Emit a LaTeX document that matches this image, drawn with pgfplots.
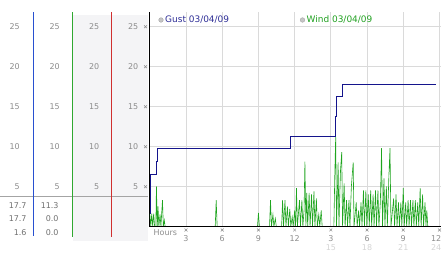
\documentclass[border=0pt]{standalone}
\usepackage{fontspec}
\setmainfont{DejaVu Sans}
\usepackage{pgfplots}
\pgfplotsset{compat=1.18}
\definecolor{gustc}{HTML}{14148C}
\definecolor{windc}{HTML}{1FA51F}
\definecolor{lblc}{HTML}{8C8C8C}
\definecolor{lightlbl}{HTML}{D4D4D4}
\definecolor{panelbg}{HTML}{F4F4F6}
\definecolor{gridc}{HTML}{DADADA}
\definecolor{linblue}{HTML}{2850D0}
\definecolor{lingreen}{HTML}{30A830}
\definecolor{linred}{HTML}{D03030}
\definecolor{legblue}{HTML}{2E2E96}
\definecolor{leggreen}{HTML}{20A020}
\definecolor{sepc}{HTML}{A4A4A4}
\definecolor{valc}{HTML}{707070}

\pgfplotstableread{
h v
0 1.6
0.08 0
0.16 1.6
0.24 0
0.32 1.6
0.4 0
0.5 0
0.55 5.0
0.62 0
0.68 2.5
0.75 0
0.85 1.5
0.92 0
1.05 3.3
1.12 0
1.2 0.8
1.27 0
5.42 0
5.5 3.3
5.58 0
8.92 0
9.0 1.7
9.08 0
9.92 0
10.0 3.3
10.08 0
10.2 1.5
10.28 0
10.4 1.0
10.48 0
10.92 0
11.0 3.3
11.08 0
11.2 3.3
11.28 0
11.4 2.5
11.48 0
11.6 2.2
11.68 0
11.8 1.2
11.88 0
12.0 2.0
12.08 0
12.15 4.8
12.23 0
12.4 3.3
12.48 0
12.6 3.3
12.68 0
12.78 2.0
12.85 8.1
12.93 0
13.0 4.2
13.08 0
13.2 4.2
13.28 0
13.4 4.0
13.48 0
13.6 4.4
13.68 0
13.8 3.5
13.88 0
14.0 1.5
14.08 0
14.2 2.0
14.28 0
15.25 0
15.32 6.0
15.4 11.3
15.47 0
15.6 8.0
15.67 0
15.74 4.0
15.8 7.0
15.9 9.3
15.97 0
16.1 5.4
16.18 0
16.3 3.3
16.38 0
16.5 3.3
16.58 0
16.7 5.0
16.85 8.0
16.92 0
17.1 3.0
17.18 0
17.3 2.0
17.38 0
17.5 3.0
17.58 0
17.7 4.5
17.78 0
17.9 4.5
17.98 0
18.1 4.0
18.18 0
18.3 4.5
18.38 0
18.5 4.0
18.58 0
18.7 4.5
18.78 0
18.9 4.5
18.98 0
19.1 3.0
19.2 9.8
19.28 0
19.4 6.0
19.48 0
19.6 5.0
19.68 0
19.8 6.0
19.9 9.8
19.98 0
20.2 3.5
20.28 0
20.4 4.0
20.48 0
20.6 3.0
20.68 0
20.8 3.0
20.88 0
21.0 4.8
21.08 0
21.2 3.0
21.28 0
21.4 3.3
21.48 0
21.6 3.3
21.68 0
21.8 3.3
21.88 0
22.0 3.3
22.08 0
22.2 3.0
22.28 0
22.4 4.8
22.48 0
22.6 4.0
22.68 0
22.8 3.0
22.88 0
22.95 2.0
23.03 0
24.0 0
}\windtable

\pgfplotstableread{
h v
0 1.6
0.03 6.5
0.52 8.1
0.6 9.8
11.65 11.3
15.4 13.75
15.5 16.2
16.0 17.7
23.7 17.7
}\gusttable

\newcommand{\tk}[2]{\draw[lblc, line width=0.5pt] (#1-1.4,#2-1.4)--(#1+1.4,#2+1.4) (#1-1.4,#2+1.4)--(#1+1.4,#2-1.4);}

\begin{document}
\begin{tikzpicture}[x=1bp,y=1bp]
\useasboundingbox (0bp,0bp) rectangle (442bp,253bp);
\begin{scope}[shift={(0bp,253bp)}, y=-1bp]
  \fill[panelbg] (73,15.5) rectangle (147.6,241);
\end{scope}

\begin{axis}[
  at={(149.8bp,26.5bp)}, anchor=south west,
  scale only axis, width=291.5bp, height=214bp,
  xmin=0, xmax=24.15, ymin=0, ymax=26.75,
  axis lines=left,
  axis line style={-, black, line width=1.1pt},
  xtick={3,6,...,24}, ytick={5,10,...,25},
  xticklabels={}, yticklabels={},
  major tick length=0pt,
  grid=major,
  major grid style={gridc, line width=0.75pt},
]
\addplot[windc, line width=0.6pt, sharp plot, mark=none] table[x=h,y=v] {\windtable};
\addplot[gustc, line width=0.9pt, const plot, mark=none] table[x=h,y=v] {\gusttable};
\draw[black, line width=1.1pt] (axis cs:0,0) -- (axis cs:24.15,0);
\end{axis}

\begin{scope}[shift={(0bp,253bp)}, y=-1bp, font=\fontsize{8}{9.6}\selectfont]
  % separator lines
  \draw[sepc, line width=2pt] (0,196.5) -- (148,196.5);
  \draw[linblue, line width=1.1bp] (33.5,12.3) -- (33.5,236);
  \draw[lingreen, line width=1.1bp] (72.5,12.3) -- (72.5,237.3);
  \draw[linred, line width=1.1bp] (111.5,12.3) -- (111.5,237.3);
  % y labels in the four columns
  \foreach \v/\yy in {25/26.7, 20/66.7, 15/106.7, 10/146.7, 5/186.7} {
    \node[lblc, anchor=east, inner sep=0] at (20,\yy) {\v};
    \node[lblc, anchor=east, inner sep=0] at (60,\yy) {\v};
    \node[lblc, anchor=east, inner sep=0] at (99.5,\yy) {\v};
    \node[lblc, anchor=east, inner sep=0] at (138.5,\yy) {\v};
    \tk{145.5}{\yy}
  }
  % table values
  \node[valc, anchor=east, inner sep=0] at (26.7,205.3) {17.7};
  \node[valc, anchor=east, inner sep=0] at (26.7,218.7) {17.7};
  \node[valc, anchor=east, inner sep=0] at (26.7,232.3) {1.6};
  \node[valc, anchor=east, inner sep=0] at (58.7,205.3) {11.3};
  \node[valc, anchor=east, inner sep=0] at (58.7,218.7) {0.0};
  \node[valc, anchor=east, inner sep=0] at (58.7,232.3) {0.0};
  % x axis labels
  \node[lblc, anchor=west, inner sep=0] at (153.5,233) {Hours};
  \foreach \h/\lab in {3/3, 6/6, 9/9, 12/12, 15/3, 18/6, 21/9} {
    \pgfmathsetmacro{\xx}{149.8+12.07*\h}
    \tk{\xx}{230}
    \node[lblc, inner sep=0] at (\xx,238.8) {\lab};
  }
  \tk{439.5}{230}
  \node[lblc, anchor=east, inner sep=0] at (441.5,238.8) {12};
  \foreach \h in {15,18,21} {
    \pgfmathsetmacro{\xx}{149.8+12.07*\h}
    \node[lightlbl, inner sep=0] at (\xx,247.5) {\h};
  }
  \node[lightlbl, anchor=east, inner sep=0] at (441.5,247.5) {24};
  % legend
  \draw[gray!70, fill=gray!45, line width=0.4pt] (161,20) circle (2.3);
  \node[legblue, anchor=west, inner sep=0, font=\fontsize{9}{10.8}\selectfont] at (165,20) {Gust 03/04/09};
  \draw[gray!70, fill=gray!45, line width=0.4pt] (302.5,20) circle (2.3);
  \node[leggreen, anchor=west, inner sep=0, font=\fontsize{9}{10.8}\selectfont] at (306.5,20) {Wind 03/04/09};
\end{scope}
\end{tikzpicture}
\end{document}
